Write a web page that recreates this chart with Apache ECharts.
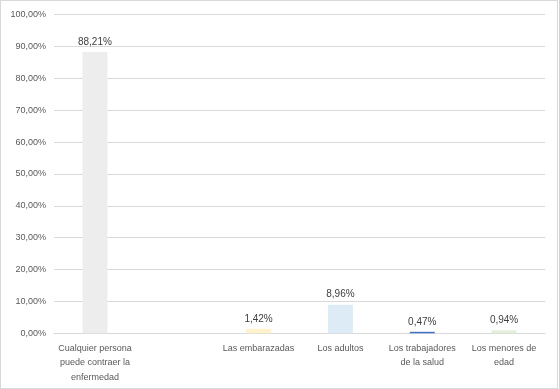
<!DOCTYPE html>
<html>
<head>
<meta charset="utf-8">
<script src="https://cdn.jsdelivr.net/npm/echarts@6/dist/echarts.min.js"></script>
<style>
html,body{margin:0;padding:0;background:#fff;}
#frame{position:absolute;left:0;top:0;width:556px;height:387px;border:1px solid #d9d9d9;}
#chart{position:absolute;left:0;top:0;width:559px;height:389px;}
</style>
</head>
<body>
<div id="frame"></div>
<div id="chart"></div>
<script>
var categories = ["Cualquier persona\npuede contraer la\nenfermedad", "", "Las embarazadas", "Los adultos", "Los trabajadores\nde la salud", "Los menores de\nedad"];
var values = [88.21, null, 1.42, 8.96, 0.47, 0.94];
var yTicks = {min: 0, max: 100, interval: 10};

var barColors = ["#ededed", "#ededed", "#fff2cc", "#ddebf7", "#4472c4", "#e2efda"];
function fmt(v){ return v.toFixed(2).replace('.', ',') + '%'; }

var chart = echarts.init(document.getElementById('chart'), null, {renderer: 'canvas'});
var font = 'Liberation Sans, Arial, sans-serif';
chart.setOption({
  animation: false,
  backgroundColor: 'transparent',
  grid: {left: 54, right: 14, top: 14.5, bottom: 55.7, outerBoundsMode: 'none'},
  xAxis: {
    type: 'category',
    data: categories,
    axisLine: {lineStyle: {color: '#d9d9d9', width: 1}},
    axisTick: {show: false},
    axisLabel: {interval: 0, color: '#595959', fontFamily: font, fontSize: 9, lineHeight: 14.3, margin: 8}
  },
  yAxis: {
    type: 'value',
    min: yTicks.min, max: yTicks.max, interval: yTicks.interval,
    axisLine: {show: false},
    axisTick: {show: false},
    splitLine: {lineStyle: {color: '#d9d9d9', width: 1}},
    axisLabel: {color: '#595959', fontFamily: font, fontSize: 9, margin: 8, formatter: function(v){ return fmt(v); }}
  },
  series: [{
    type: 'bar',
    barWidth: '30.5%',
    data: values.map(function(v, i){ return {value: v, itemStyle: {color: barColors[i]}}; }),
    label: {
      show: true, position: 'top', distance: 5,
      color: '#404040', fontFamily: font, fontSize: 10,
      formatter: function(p){ return p.value == null ? '' : fmt(p.value); }
    }
  }]
});
</script>
</body>
</html>
